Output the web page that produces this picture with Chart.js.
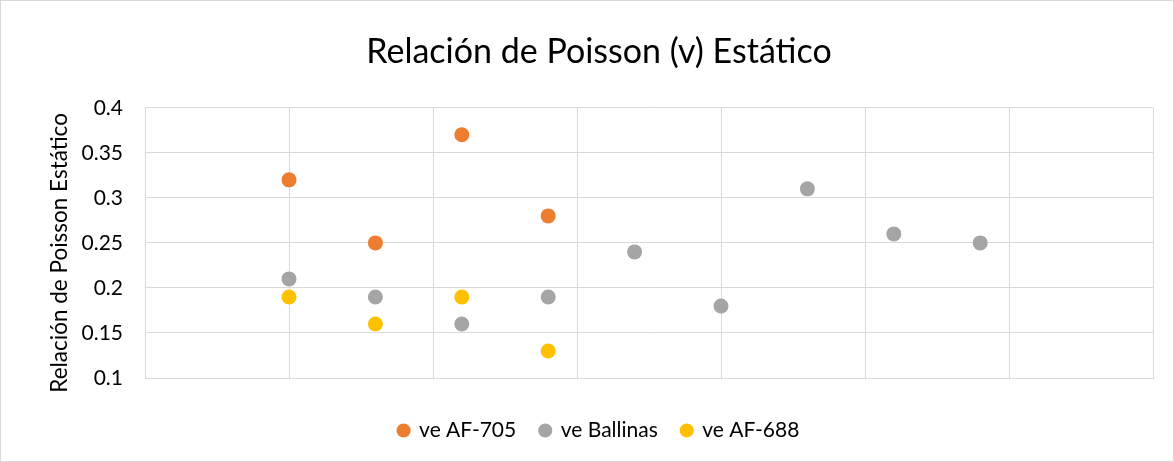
<!DOCTYPE html>
<html>
<head>
<meta charset="utf-8">
<script src="https://cdn.jsdelivr.net/npm/chart.js@4"></script>
<style>
  html, body { margin: 0; padding: 0; background: #fff; }
  #wrap { position: relative; width: 1174px; height: 462px; box-sizing: border-box; border: 1px solid #d9d9d9; }
</style>
</head>
<body>
<div id="wrap"><canvas id="scatter-chart"></canvas></div>
<script>
var xValues = [1, 1.6, 2.2, 2.8, 3.4, 4, 4.6, 5.2, 5.8];
var af705 = [0.32, 0.25, 0.37, 0.28];
var ballinas = [0.21, 0.19, 0.16, 0.19, 0.24, 0.18, 0.31, 0.26, 0.25];
var af688 = [0.19, 0.16, 0.19, 0.13];
var seriesNames = ['ve AF-705', 've Ballinas', 've AF-688'];
var yMin = 0.1, yMax = 0.4, yStep = 0.05;
var xMin = 0, xMax = 7;
var yTitle = 'Relación de Poisson Estático';

function toPoints(values) {
    return values.map(function (v, i) { return { x: xValues[i], y: v }; });
}

// titolo asse y disegnato a mano: in Excel sta un po' più in basso del centro
var yTitlePlugin = {
    id: 'yTitle',
    afterDraw: function (chart) {
        var c = chart.ctx;
        var area = chart.chartArea;
        c.save();
        c.translate(59, (area.top + area.bottom) / 2 + 10);
        c.rotate(-Math.PI / 2);
        c.fillStyle = '#000';
        c.font = '22.5px Lato, "Open Sans", sans-serif';
        c.textAlign = 'center';
        c.textBaseline = 'middle';
        c.fillText(yTitle, 0, 0);
        c.restore();
    }
};

function ScatterChart() {
    var ctx = document.getElementById('scatter-chart');
    var colori = ['#ED7D31', '#A5A5A5', '#FFC000'];
    var serie = [af705, ballinas, af688];
    var font = 'Lato, "Open Sans", sans-serif';
    var chart = new Chart(ctx, {
        type: 'scatter',
        data: {
            datasets: serie.map(function (s, i) {
                return {
                    label: seriesNames[i],
                    data: toPoints(s),
                    backgroundColor: colori[i],
                    borderColor: colori[i],
                    pointRadius: 7.5,
                    pointHoverRadius: 7.5,
                    borderWidth: 0
                };
            })
        },
        plugins: [yTitlePlugin],
        options: {
            responsive: true,
            maintainAspectRatio: false,
            animation: false,
            layout: { padding: { left: 44, right: 20, top: 0, bottom: 10 } },
            plugins: {
                title: {
                    display: true,
                    text: 'Relación de Poisson (v) Estático',
                    color: '#000',
                    font: { family: font, size: 34, weight: 'normal' },
                    padding: { top: 31, bottom: 35 }
                },
                legend: {
                    position: 'bottom',
                    labels: {
                        usePointStyle: true,
                        pointStyle: 'circle',
                        boxWidth: 10,
                        boxHeight: 10,
                        color: '#000',
                        padding: 24,
                        font: { family: font, size: 21 }
                    }
                },
                tooltip: { enabled: false }
            },
            scales: {
                x: {
                    type: 'linear',
                    min: xMin,
                    max: xMax,
                    ticks: { display: false, stepSize: 1 },
                    grid: { color: '#d9d9d9', drawTicks: false },
                    border: { color: '#d9d9d9' },
                    afterFit: function (scale) { scale.height = 18; }
                },
                y: {
                    min: yMin,
                    max: yMax,
                    ticks: {
                        stepSize: yStep,
                        color: '#000',
                        padding: 22,
                        font: { family: font, size: 21 },
                        callback: function (v) { return String(Math.round(v * 100) / 100); }
                    },
                    grid: { color: '#d9d9d9', drawTicks: false },
                    border: { color: '#d9d9d9' },
                    afterFit: function (scale) { scale.width = 100; }
                }
            }
        }
    });
}

ScatterChart();
</script>
</body>
</html>
